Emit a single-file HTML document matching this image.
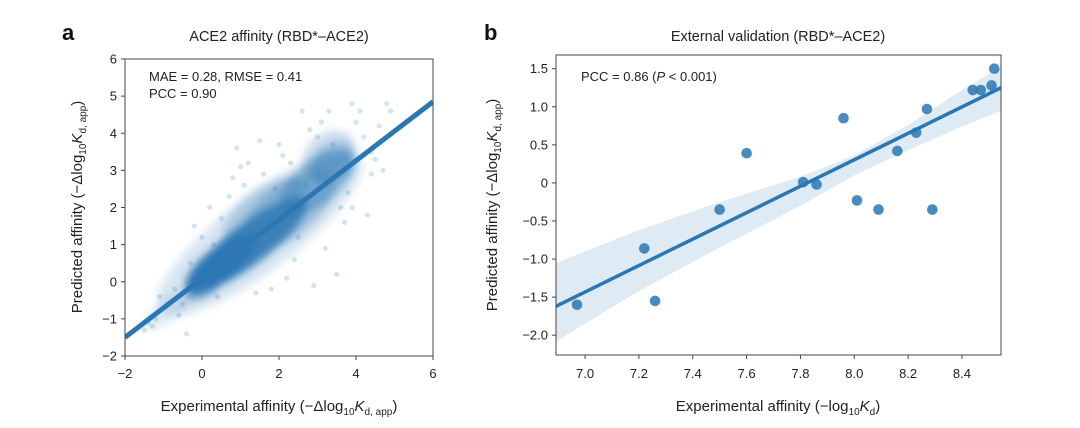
<!DOCTYPE html>
<html><head><meta charset="utf-8">
<style>
body{margin:0;background:#fff;width:1080px;height:428px;overflow:hidden}
svg{display:block;font-family:"Liberation Sans","DejaVu Sans",sans-serif}
.tk{font-size:13px;fill:#222}
.lab{font-size:15px;fill:#222}
.ttl{font-size:14.5px;fill:#222}
</style></head><body>
<svg id="svg" width="1080" height="428" viewBox="0 0 1080 428">
<defs>
<filter id="blur" x="-20%" y="-20%" width="140%" height="140%"><feGaussianBlur stdDeviation="4"/></filter>
<clipPath id="clipA"><rect x="125" y="59" width="308" height="297"/></clipPath>
<clipPath id="clipB"><rect x="556" y="55" width="445" height="300"/></clipPath>
</defs>
<text x="62" y="40" font-size="22" font-weight="bold" fill="#111">a</text>
<text x="484" y="40" font-size="22" font-weight="bold" fill="#111">b</text>
<text class="ttl" x="279" y="41" text-anchor="middle">ACE2 affinity (RBD*–ACE2)</text>
<text class="ttl" x="778" y="41" text-anchor="middle">External validation (RBD*–ACE2)</text>
<g id="A"></g>
<g id="B"></g>
</svg>
<script>
// ---------- Panel A data ----------
const aXTicks=[-2,0,2,4,6];
const aYTicks=[-2,-1,0,1,2,3,4,5,6];
// density blobs: [centerX, centerY, halfLength(x units), halfWidth, opacity]
const aBlobX=[1.2,0.5,3.0,2.2,1.5,-0.8,0.1,3.4,1.6,3.3];
const aBlobY=[1.0,0.5,2.7,1.9,1.3,-0.7,0.0,3.2,1.9,3.4];
const aBlobLen=[1.5,0.9,0.9,1.2,2.6,0.7,0.5,0.5,1.0,0.6];
const aBlobW=[0.55,0.45,0.6,0.7,1.0,0.3,0.35,0.5,0.6,0.6];
const aBlobOp=[0.85,0.9,0.4,0.35,0.18,0.15,0.6,0.35,0.25,0.25];
// sparse outlier points
const aPtX=[-1.5,-1.3,-0.9,-0.6,-0.4,-1.1,2.3,1.2,0.9,2.6,3.3,3.9,4.1,4.6,4.8,4.9,4.4,3.8,2.7,1.6,2.0,3.0,1.9,0.5,2.4,3.5,4.3,1.4,2.9,3.2,0.2,-0.2,4.0,4.5,1.0,2.2,3.6,1.5,0.7,3.7,-1.2,-0.7,-0.3,0.0,0.3,2.8,3.1,4.2,4.7,2.1,1.1,-0.5,3.4,2.5,1.8,0.8,4.4,3.9,-1.4,0.4];
const aPtY=[-1.3,-1.2,-0.6,-0.9,-1.4,-0.4,3.2,3.2,3.6,4.6,4.6,4.8,4.6,4.2,4.8,4.6,3.5,2.4,2.6,2.9,3.7,3.9,2.5,1.7,0.6,0.2,1.8,-0.3,-0.1,0.9,2.0,1.5,4.3,3.3,3.1,0.1,2.0,3.8,2.3,1.6,-1.0,-0.2,0.5,1.2,1.0,4.1,4.3,3.9,3.0,3.4,2.6,-0.6,3.7,1.2,-0.2,2.8,2.9,2.0,-1.1,-0.4];
const aFitX=[-2,6];
const aFitY=[-1.5,4.85];

// ---------- Panel B data ----------
const bXTicks=[7.0,7.2,7.4,7.6,7.8,8.0,8.2,8.4];
const bYTicks=[-2.0,-1.5,-1.0,-0.5,0,0.5,1.0,1.5];
const bYLabels=["-2.0","-1.5","-1.0","-0.5","0","0.5","1.0","1.5"];
const bPtX=[6.97,7.22,7.26,7.50,7.60,7.81,7.86,7.96,8.01,8.09,8.16,8.23,8.27,8.29,8.44,8.47,8.51,8.52];
const bPtY=[-1.60,-0.86,-1.55,-0.35,0.39,0.01,-0.02,0.85,-0.23,-0.35,0.42,0.66,0.97,-0.35,1.22,1.22,1.28,1.50];
const bFitX=[6.892,8.545];
const bFitY=[-1.62,1.25];
const bBandX=[6.892,7.2,7.5,7.8,8.0,8.2,8.4,8.545];
const bBandHi=[-1.05,-0.62,-0.25,0.08,0.36,0.76,1.22,1.52];
const bBandLo=[-2.08,-1.42,-0.85,-0.30,0.10,0.43,0.74,0.95];

const NS="http://www.w3.org/2000/svg";
function mk(parent,tag,attrs){const e=document.createElementNS(NS,tag);for(const k in attrs)e.setAttribute(k,attrs[k]);parent.appendChild(e);return e;}
const BLUE="#2a77b4";

// ---------- Panel A ----------
const A=document.getElementById('A');
const ax=v=>125+(v+2)*38.5;
const ay=v=>356-(v+2)*37.125;
const gA=mk(A,'g',{'clip-path':'url(#clipA)'});
const gBlob=mk(gA,'g',{filter:'url(#blur)'});
const slope=(aFitY[1]-aFitY[0])/(aFitX[1]-aFitX[0]);
const ang=-Math.atan(slope*37.125/38.5)*180/Math.PI;
for(let i=0;i<aBlobX.length;i++){
  const cx=ax(aBlobX[i]),cy=ay(aBlobY[i]);
  const dx=ax(aBlobX[i]+aBlobLen[i])-cx, dy=ay(aBlobY[i]+aBlobLen[i]*slope)-cy;
  const rx=Math.hypot(dx,dy);
  const ry=aBlobW[i]*37.125;
  const e=mk(gBlob,'ellipse',{cx:cx,cy:cy,rx:rx,ry:ry,fill:BLUE,'fill-opacity':aBlobOp[i],transform:`rotate(${ang} ${cx} ${cy})`});
  
  
}
for(let i=0;i<aPtX.length;i++){
  const c=mk(gA,'circle',{cx:ax(aPtX[i]),cy:ay(aPtY[i]),r:2.6,fill:BLUE,'fill-opacity':0.2});
  
  
}
const fa=mk(gA,'line',{x1:ax(aFitX[0]),y1:ay(aFitY[0]),x2:ax(aFitX[1]),y2:ay(aFitY[1]),stroke:BLUE,'stroke-width':5});


const fr=mk(A,'rect',{x:125,y:59,width:308,height:297,fill:'none',stroke:'#444','stroke-width':1});


aXTicks.forEach(t=>{
  mk(A,'line',{x1:ax(t),x2:ax(t),y1:356,y2:360,stroke:'#444'});
  const tx=mk(A,'text',{x:ax(t),y:378,'text-anchor':'middle',class:'tk'});tx.textContent=t<0?'−'+(-t):t;
  
  
});
aYTicks.forEach(t=>{
  mk(A,'line',{x1:121,x2:125,y1:ay(t),y2:ay(t),stroke:'#444'});
  const tx=mk(A,'text',{x:117,y:ay(t)+4.5,'text-anchor':'end',class:'tk'});tx.textContent=t<0?'−'+(-t):t;
  
  
});
</script>
<script>
const Aroot=document.getElementById('A');
Aroot.insertAdjacentHTML('beforeend',
 '<text x="149" y="81" font-size="13" fill="#222">MAE = 0.28, RMSE = 0.41</text>'+
 '<text x="149" y="98" font-size="13" fill="#222">PCC = 0.90</text>'+
 '<text class="lab" x="279" y="411" text-anchor="middle">Experimental affinity (−Δlog<tspan font-size="10" dy="4">10</tspan><tspan font-style="italic" dy="-4">K</tspan><tspan font-size="10" dy="4">d, app</tspan><tspan dy="-4">)</tspan></text>'+
 '<text class="lab" transform="translate(82,207) rotate(-90)" text-anchor="middle">Predicted affinity (−Δlog<tspan font-size="10" dy="4">10</tspan><tspan font-style="italic" dy="-4">K</tspan><tspan font-size="10" dy="4">d, app</tspan><tspan dy="-4">)</tspan></text>');

// ---------- Panel B ----------
const B=document.getElementById('B');
const bx=v=>556+(v-6.892)/(8.545-6.892)*445;
const by=v=>355-(v+2.26)/(1.68+2.26)*300;
const gB=mk(B,'g',{'clip-path':'url(#clipB)'});
let d='M'+bBandX.map((x,i)=>bx(x)+','+by(bBandHi[i])).join(' L');
d+=' L'+bBandX.slice().reverse().map((x,i)=>bx(x)+','+by(bBandLo[bBandLo.length-1-i])).join(' L')+' Z';
const band=mk(gB,'path',{d:d,fill:BLUE,'fill-opacity':0.15});


const fb=mk(gB,'line',{x1:bx(bFitX[0]),y1:by(bFitY[0]),x2:bx(bFitX[1]),y2:by(bFitY[1]),stroke:BLUE,'stroke-width':3.5});


for(let i=0;i<bPtX.length;i++){
  const c=mk(gB,'circle',{cx:bx(bPtX[i]),cy:by(bPtY[i]),r:5.3,fill:BLUE,'fill-opacity':0.85});
  
  
}
const frb=mk(B,'rect',{x:556,y:55,width:445,height:300,fill:'none',stroke:'#444','stroke-width':1});


bXTicks.forEach(t=>{
  mk(B,'line',{x1:bx(t),x2:bx(t),y1:355,y2:359,stroke:'#444'});
  const tx=mk(B,'text',{x:bx(t),y:378,'text-anchor':'middle',class:'tk'});tx.textContent=t.toFixed(1);
  
  
});
bYTicks.forEach((t,i)=>{
  mk(B,'line',{x1:552,x2:556,y1:by(t),y2:by(t),stroke:'#444'});
  const tx=mk(B,'text',{x:548,y:by(t)+4.5,'text-anchor':'end',class:'tk'});tx.textContent=bYLabels[i].replace('-','−');
  
  
});
B.insertAdjacentHTML('beforeend',
 '<text x="581" y="81" font-size="13" fill="#222">PCC = 0.86 (<tspan font-style="italic">P</tspan> &lt; 0.001)</text>'+
 '<text class="lab" x="778" y="411" text-anchor="middle">Experimental affinity (−log<tspan font-size="10" dy="4">10</tspan><tspan font-style="italic" dy="-4">K</tspan><tspan font-size="10" dy="4">d</tspan><tspan dy="-4">)</tspan></text>'+
 '<text class="lab" transform="translate(497,205) rotate(-90)" text-anchor="middle">Predicted affinity (−Δlog<tspan font-size="10" dy="4">10</tspan><tspan font-style="italic" dy="-4">K</tspan><tspan font-size="10" dy="4">d, app</tspan><tspan dy="-4">)</tspan></text>');
</script>
</body></html>
